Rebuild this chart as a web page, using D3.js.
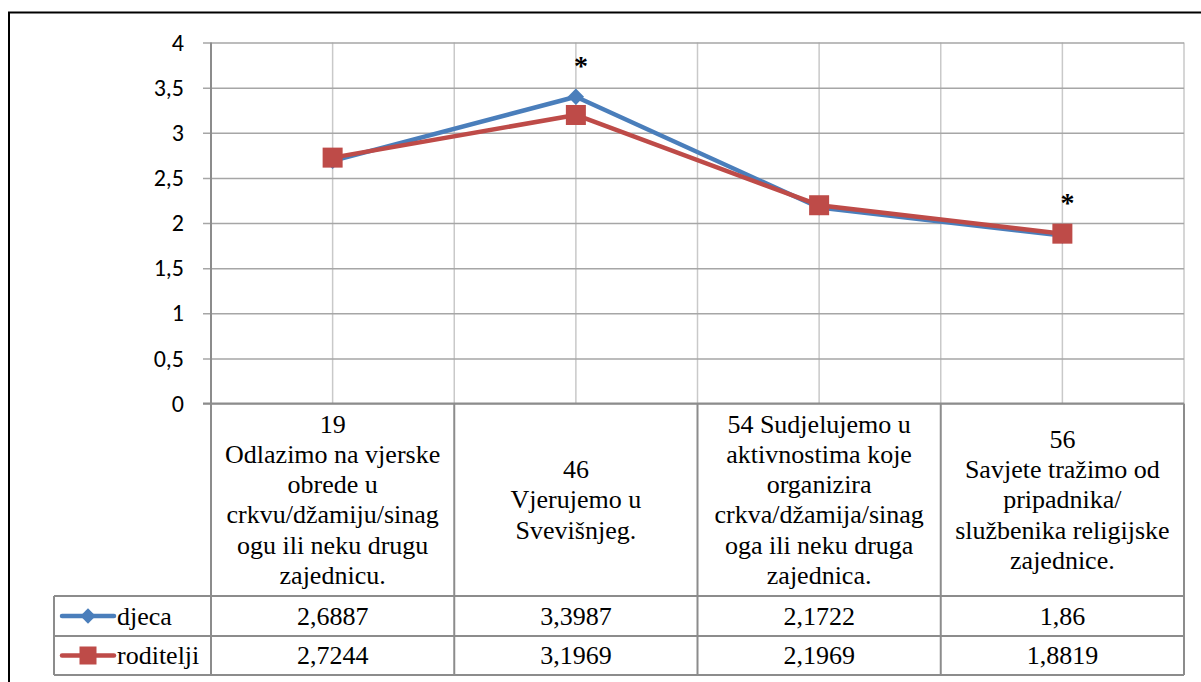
<!DOCTYPE html>
<html>
<head>
<meta charset="utf-8">
<script src="https://cdn.jsdelivr.net/npm/d3@7"></script>
</head>
<body style="margin:0">
<svg id="chart" width="1201" height="682" style="font-family: Liberation Serif"></svg>
<script>
// ---- Data ----
const categories = ["19", "46", "54", "56"];
const categoryLines = [
  ["19", "Odlazimo na vjerske", "obrede u", "crkvu/džamiju/sinag", "ogu ili neku drugu", "zajednicu."],
  ["46", "Vjerujemo u", "Svevišnjeg."],
  ["54 Sudjelujemo u", "aktivnostima koje", "organizira", "crkva/džamija/sinag", "oga ili neku druga", "zajednica."],
  ["56", "Savjete tražimo od", "pripadnika/", "službenika religijske", "zajednice."]
];
const seriesNames = ["djeca", "roditelji"];
const djeca = [2.6887, 3.3987, 2.1722, 1.86];
const roditelji = [2.7244, 3.1969, 2.1969, 1.8819];
const djecaLabels = ["2,6887", "3,3987", "2,1722", "1,86"];
const roditeljiLabels = ["2,7244", "3,1969", "2,1969", "1,8819"];
const yTicks = [0, 0.5, 1, 1.5, 2, 2.5, 3, 3.5, 4];
const significant = ["46", "56"];   // categories marked with *

// ---- Layout ----
const svg = d3.select("#chart");
const plotLeft = 211, plotRight = 1184, plotTop = 42.5, plotBottom = 403.5;
const catRowBottom = 596, row1Bottom = 636, row2Bottom = 675, legendLeft = 54;
const blue = "#4a7ebb", red = "#be4b48";
const gridCol = "#a6a6a6", vGridCol = "#c9c9c9", tableCol = "#8c8c8c";
const SERIF = "Liberation Serif", SANS = "Carlito";

const x = d3.scaleBand().domain(categories).range([plotLeft, plotRight]).padding(0);
const y = d3.scaleLinear().domain([0, 4]).range([plotBottom, plotTop]);
const cx = c => x(c) + x.bandwidth() / 2;

// outer frame
svg.append("rect").attr("x", 9).attr("y", 12.5).attr("width", 1300).attr("height", 800)
  .attr("fill", "none").attr("stroke", "#000").attr("stroke-width", 2);

// vertical gridlines (centers + boundaries)
const g = svg.append("g");
categories.forEach(c => {
  g.append("line").attr("x1", cx(c)).attr("x2", cx(c)).attr("y1", plotTop).attr("y2", plotBottom)
    .attr("stroke", vGridCol).attr("stroke-width", 1.5);
  g.append("line").attr("x1", x(c) + x.bandwidth()).attr("x2", x(c) + x.bandwidth())
    .attr("y1", plotTop).attr("y2", plotBottom)
    .attr("stroke", vGridCol).attr("stroke-width", 1.5);
});

// horizontal gridlines + y-axis
const yAxis = d3.axisLeft(y).tickValues(yTicks).tickSize(8).tickPadding(19)
  .tickFormat(d => String(d).replace(".", ","));
const ya = svg.append("g").attr("transform", `translate(${plotLeft},0)`).call(yAxis);
ya.attr("font-family", SANS).attr("font-size", 24);
ya.select(".domain").remove();
ya.selectAll(".tick line").attr("stroke", gridCol).attr("stroke-width", 1.5)
  .attr("x2", plotRight - plotLeft).attr("x1", -8);
ya.selectAll(".tick text").style("font-family", SANS)
  .style("font-size", "24px").attr("fill", "#000");

// table
const t = svg.append("g").attr("stroke", tableCol).attr("stroke-width", 2).attr("fill", "none");
t.append("line").attr("x1", plotLeft).attr("x2", plotLeft).attr("y1", plotTop).attr("y2", row2Bottom);
t.append("line").attr("x1", plotLeft - 8).attr("x2", plotRight).attr("y1", plotBottom).attr("y2", plotBottom);
categories.forEach(c => {
  const xr = x(c) + x.bandwidth();
  t.append("line").attr("x1", xr).attr("x2", xr).attr("y1", plotBottom).attr("y2", row2Bottom);
});
[catRowBottom, row1Bottom, row2Bottom].forEach(yy => {
  t.append("line").attr("x1", legendLeft).attr("x2", plotRight).attr("y1", yy).attr("y2", yy);
});
t.append("line").attr("x1", legendLeft).attr("x2", legendLeft).attr("y1", catRowBottom).attr("y2", row2Bottom);

// category labels
const catMid = (plotBottom + catRowBottom) / 2, lh = 30.2;
categories.forEach((c, i) => {
  const lines = categoryLines[i], n = lines.length;
  lines.forEach((ln, j) => {
    svg.append("text").attr("x", cx(c)).attr("y", catMid + 8.6 + (j - (n - 1) / 2) * lh)
      .attr("text-anchor", "middle").attr("font-family", SERIF).style("font-family", SERIF)
      .style("font-size", "26px").attr("fill", "#000").text(ln);
  });
});

// value rows
const rows = [
  { name: seriesNames[0], labels: djecaLabels, base: 625, color: blue, mid: (catRowBottom + row1Bottom) / 2, marker: "diamond" },
  { name: seriesNames[1], labels: roditeljiLabels, base: 664, color: red, mid: (row1Bottom + row2Bottom) / 2, marker: "square" }
];
rows.forEach(r => {
  categories.forEach((c, i) => {
    svg.append("text").attr("x", cx(c)).attr("y", r.base).attr("text-anchor", "middle")
      .attr("font-family", SERIF).style("font-family", SERIF)
      .style("font-size", "26px").attr("fill", "#000").text(r.labels[i]);
  });
  svg.append("text").attr("x", 117).attr("y", r.base)
    .attr("font-family", SERIF).style("font-family", SERIF)
    .style("font-size", "26px").attr("fill", "#000").text(r.name);
  svg.append("line").attr("x1", 62).attr("x2", 114).attr("y1", r.mid).attr("y2", r.mid)
    .attr("stroke", r.color).attr("stroke-width", 4.5).attr("stroke-linecap", "round");
  if (r.marker === "diamond") {
    svg.append("path").attr("d", d3.symbol(d3.symbolDiamond2, 150)())
      .attr("transform", `translate(88,${r.mid})`).attr("fill", r.color);
  } else {
    svg.append("rect").attr("x", 88 - 8.5).attr("y", r.mid - 9).attr("width", 17).attr("height", 18)
      .attr("fill", r.color);
  }
});

// lines
const lineGen = d3.line().x((d, i) => cx(categories[i])).y(d => y(d));
svg.append("path").datum(djeca).attr("d", lineGen).attr("fill", "none")
  .attr("stroke", blue).attr("stroke-width", 4.5).attr("stroke-linejoin", "round");
svg.selectAll(".dmark").data(djeca).enter().append("path")
  .attr("d", d3.symbol(d3.symbolDiamond2, 170)())
  .attr("transform", (d, i) => `translate(${cx(categories[i])},${y(d)})`).attr("fill", blue);
svg.append("path").datum(roditelji).attr("d", lineGen).attr("fill", "none")
  .attr("stroke", red).attr("stroke-width", 4.5).attr("stroke-linejoin", "round");
svg.selectAll(".rmark").data(roditelji).enter().append("rect")
  .attr("x", (d, i) => cx(categories[i]) - 10).attr("y", d => y(d) - 10)
  .attr("width", 20).attr("height", 20).attr("fill", red);

// significance asterisks
significant.forEach(c => {
  const i = categories.indexOf(c);
  const top = Math.max(djeca[i], roditelji[i]);
  svg.append("text").attr("x", cx(c) + 5).attr("y", y(top) - 22)
    .attr("text-anchor", "middle").attr("font-family", SERIF).style("font-family", SERIF)
    .style("font-weight", "bold").style("font-size", "28px").attr("fill", "#000").text("*");
});
</script>
</body>
</html>
